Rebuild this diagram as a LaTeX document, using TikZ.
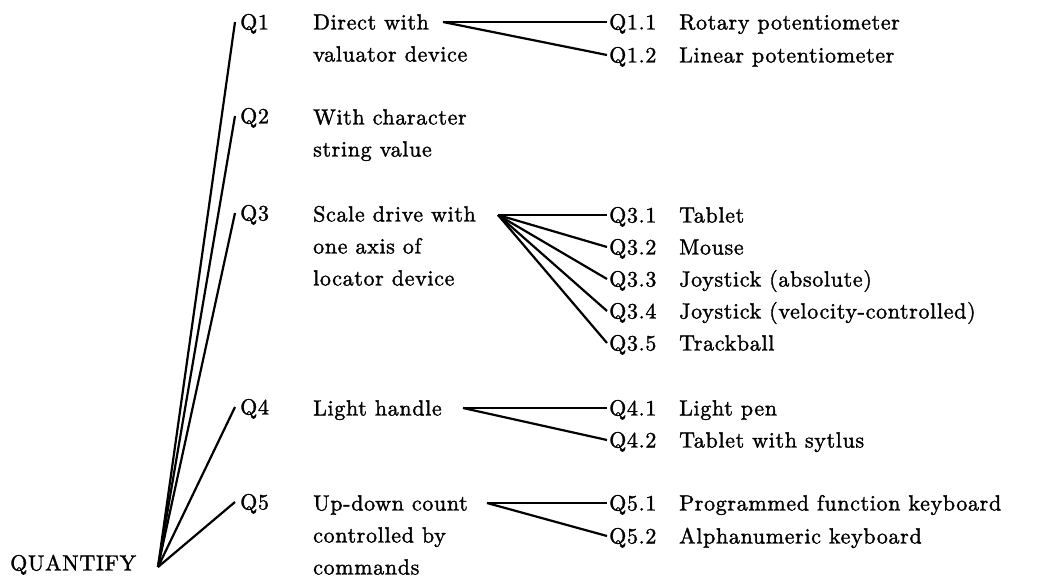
\documentclass[tikz,border=0pt]{standalone}
% Latin Modern at its 10pt design size, slightly spaced and darkened
\DeclareFontFamily{TU}{lmtenls}{}
\DeclareFontShape{TU}{lmtenls}{m}{n}{<-> "[lmroman10-regular]:+tlig;letterspace=3;embolden=1.5;"}{}
\begin{document}
\begin{tikzpicture}[x=1pt,y=-1pt,
  txt/.style={font=\fontfamily{lmtenls}\fontsize{22}{32}\selectfont,
              inner sep=0pt, text height=15pt, text depth=0pt, anchor=west},
  qlab/.style={txt, inner xsep=5pt},
  ilab/.style={txt, inner xsep=2pt},
  link/.style={line width=2.2pt, line cap=butt, line join=miter}]
\useasboundingbox (0,0) rectangle (1044,580);

% root and top-level branches
\node[txt] (quant) at (10,563) {QUANTIFY};
\coordinate (apex) at (158,567);

\node[qlab] (q1) at (235,22)  {Q1};
\node[qlab] (q2) at (235,116) {Q2};
\node[qlab] (q3) at (235,213) {Q3};
\node[qlab] (q4) at (235,407) {Q4};
\node[qlab] (q5) at (235,502) {Q5};

\foreach \q in {q1,q2,q3,q4,q5}
  \draw[link] (apex) -- (\q.west);

% branch descriptions
\node[txt] (d1)  at (313,22)  {Direct with};
\node[txt] (d1b) at (313,54)  {valuator device};
\node[txt] (d2)  at (313,117) {With character};
\node[txt] (d2b) at (313,149) {string value};
\node[txt] (d3)  at (313,214) {Scale drive with};
\node[txt] (d3b) at (313,246) {one axis of};
\node[txt] (d3c) at (313,278) {locator device};
\node[txt] (d4)  at (313,408) {Light handle};
\node[txt] (d5)  at (313,503) {Up-down count};
\node[txt] (d5b) at (313,535) {controlled by};
\node[txt] (d5c) at (313,567) {commands};

% fan origins beside the descriptions
\coordinate (f1) at (443,22);
\coordinate (f3) at (498,215);
\coordinate (f4) at (463,408);
\coordinate (f5) at (487,503);

% devices
\node[ilab] (q11) at (607,22)  {Q1.1};
\node[ilab] (q12) at (607,55)  {Q1.2};
\node[ilab] (q31) at (607,215) {Q3.1};
\node[ilab] (q32) at (607,247) {Q3.2};
\node[ilab] (q33) at (607,279) {Q3.3};
\node[ilab] (q34) at (607,311) {Q3.4};
\node[ilab] (q35) at (607,343) {Q3.5};
\node[ilab] (q41) at (607,408) {Q4.1};
\node[ilab] (q42) at (607,440) {Q4.2};
\node[ilab] (q51) at (607,503) {Q5.1};
\node[ilab] (q52) at (607,536) {Q5.2};

\node[txt] (i11) at (679,22)  {Rotary potentiometer};
\node[txt] (i12) at (679,55)  {Linear potentiometer};
\node[txt] (i31) at (679,215) {Tablet};
\node[txt] (i32) at (679,247) {Mouse};
\node[txt] (i33) at (679,279) {Joystick (absolute)};
\node[txt] (i34) at (679,311) {Joystick (velocity-controlled)};
\node[txt] (i35) at (679,343) {Trackball};
\node[txt] (i41) at (679,408) {Light pen};
\node[txt] (i42) at (679,440) {Tablet with sytlus};
\node[txt] (i51) at (679,503) {Programmed function keyboard};
\node[txt] (i52) at (679,536) {Alphanumeric keyboard};

\foreach \q in {q11,q12} \draw[link] (f1) -- (\q.west);
\foreach \q in {q31,q32,q33,q34,q35} \draw[link] (f3) -- (\q.west);
\foreach \q in {q41,q42} \draw[link] (f4) -- (\q.west);
\foreach \q in {q51,q52} \draw[link] (f5) -- (\q.west);
\end{tikzpicture}
\end{document}
